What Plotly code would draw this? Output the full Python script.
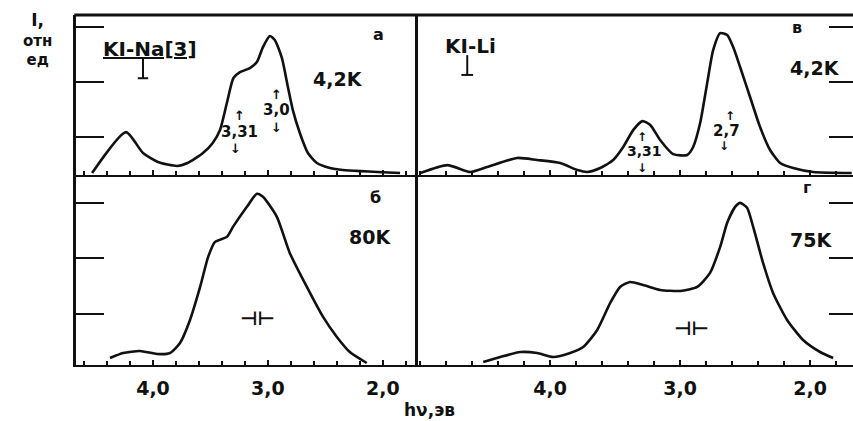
import plotly.graph_objects as go

# ---------------- data ----------------
# a) KI-Na, 4.2 K
E_A = [4.53, 4.235, 4.087, 3.957, 3.79, 3.70, 3.565, 3.48, 3.417, 3.357, 3.30, 3.243,
       3.157, 3.096, 3.043, 2.983, 2.94, 2.878, 2.826, 2.783, 2.722, 2.652, 2.574,
       2.46, 2.348, 1.85]
I_A = [0.346, 1.09, 0.71, 0.546, 0.474, 0.528, 0.71, 0.892, 1.128, 1.62, 2.074, 2.18,
       2.255, 2.365, 2.637, 2.837, 2.765, 2.437, 1.91, 1.49, 1.074, 0.71, 0.528,
       0.437, 0.40, 0.346]
# b) KI-Na, 80 K
E_B = [4.374, 4.26, 4.113, 3.965, 3.852, 3.765, 3.678, 3.59, 3.52, 3.46, 3.357, 3.304,
       3.183, 3.096, 3.043, 2.922, 2.81, 2.661, 2.52, 2.40, 2.287, 2.14]
I_B = [0.206, 0.296, 0.332, 0.278, 0.296, 0.476, 0.891, 1.485, 2.026, 2.296, 2.386,
       2.566, 2.927, 3.161, 3.107, 2.747, 2.098, 1.485, 0.945, 0.585, 0.314, 0.116]
# v) KI-Li, 4.2 K
E_V = [5.0, 4.79, 4.615, 4.485, 4.254, 4.10, 3.923, 3.79, 3.715, 3.615, 3.515, 3.438,
       3.36, 3.29, 3.23, 3.154, 3.054, 2.946, 2.90, 2.846, 2.792, 2.746, 2.692, 2.638,
       2.592, 2.538, 2.462, 2.385, 2.308, 2.23, 2.13, 1.977, 1.68]
I_V = [0.346, 0.49, 0.365, 0.455, 0.62, 0.583, 0.528, 0.40, 0.365, 0.437, 0.583, 0.82,
       1.13, 1.29, 1.22, 0.946, 0.69, 0.674, 0.82, 1.255, 1.98, 2.58, 2.89, 2.855,
       2.637, 2.27, 1.728, 1.183, 0.765, 0.528, 0.437, 0.365, 0.346]
# g) KI-Li, 75 K
E_G = [4.515, 4.385, 4.23, 4.10, 3.977, 3.846, 3.746, 3.638, 3.538, 3.462, 3.385,
       3.285, 3.154, 3.0, 2.869, 2.77, 2.692, 2.638, 2.577, 2.538, 2.485, 2.438,
       2.362, 2.285, 2.177, 2.054, 1.923, 1.823]
I_G = [0.134, 0.224, 0.314, 0.296, 0.224, 0.296, 0.404, 0.711, 1.197, 1.485, 1.575,
       1.521, 1.431, 1.413, 1.485, 1.738, 2.206, 2.639, 2.927, 2.999, 2.909, 2.566,
       1.918, 1.377, 0.891, 0.53, 0.314, 0.206]

X_TICK_VALS = [4.0, 3.0, 2.0]
X_TICK_TEXT = ["4,0", "3,0", "2,0"]
Y_TICK_VALS = [1, 2, 3]

BLACK = "#111111"
FONT = "DejaVu Sans"

fig = go.Figure()
panels = [(E_A, I_A, "x", "y"), (E_V, I_V, "x2", "y2"),
          (E_B, I_B, "x3", "y3"), (E_G, I_G, "x4", "y4")]
for e, i, xa, ya in panels:
    fig.add_trace(go.Scatter(x=e, y=i, xaxis=xa, yaxis=ya, mode="lines",
                             line=dict(color=BLACK, width=2.6, shape="spline", smoothing=0.6),
                             showlegend=False, hoverinfo="skip"))

L_DOM = [76 / 853, 415 / 853]
R_DOM = [415 / 853, 1.0]
T_DOM = [1 - 175 / 421, 1 - 15 / 421]
B_DOM = [1 - 365 / 421, 1 - 175 / 421]
L_RANGE = [4.67, 1.72]
R_RANGE = [5.04, 1.67]
T_YRANGE = [0.31, 3.22]
B_YRANGE = [0.08, 3.50]


def xax(dom, rng, anchor, labels):
    return dict(domain=dom, range=rng, anchor=anchor, showline=True, linecolor=BLACK,
                linewidth=1.5, ticks="inside", ticklen=5, tickwidth=1.5, tickcolor=BLACK,
                tickvals=X_TICK_VALS, ticktext=X_TICK_TEXT, showticklabels=labels,
                minor=dict(ticks="inside", dtick=0.2, tick0=0, ticklen=4, tickwidth=1.5,
                           tickcolor=BLACK, showgrid=False),
                showgrid=False, zeroline=False, ticklabelstandoff=5,
                tickfont=dict(family=FONT, size=19, color=BLACK, weight="bold"))


def yax_left(dom, rng, anchor):
    return dict(domain=dom, range=rng, anchor=anchor, side="left", showline=True,
                linecolor=BLACK, linewidth=3, mirror=True, ticks="inside", ticklen=28,
                tickwidth=1.5, tickcolor=BLACK, tickvals=Y_TICK_VALS,
                showticklabels=False, showgrid=False, zeroline=False)


def yax_right(dom, rng, anchor):
    return dict(domain=dom, range=rng, anchor=anchor, side="right", showline=False,
                ticks="inside", ticklen=24, tickwidth=1.5, tickcolor=BLACK,
                tickvals=Y_TICK_VALS, showticklabels=False, showgrid=False,
                zeroline=False)


fig.update_layout(
    width=853, height=421, margin=dict(l=0, r=0, t=0, b=0),
    paper_bgcolor="white", plot_bgcolor="white",
    xaxis=xax(L_DOM, L_RANGE, "y", False),
    xaxis2=xax(R_DOM, R_RANGE, "y2", False),
    xaxis3=xax(L_DOM, L_RANGE, "y3", True),
    xaxis4=xax(R_DOM, R_RANGE, "y4", True),
    yaxis=yax_left(T_DOM, T_YRANGE, "x"),
    yaxis2=yax_right(T_DOM, T_YRANGE, "x2"),
    yaxis3=yax_left(B_DOM, B_YRANGE, "x3"),
    yaxis4=yax_right(B_DOM, B_YRANGE, "x4"),
)

# top border
fig.add_shape(type="line", xref="paper", yref="paper", x0=L_DOM[0] - 0.002, x1=1.0,
              y0=T_DOM[1], y1=T_DOM[1], line=dict(color=BLACK, width=3))

# ---------------- annotations ----------------
def txt(x, y, s, xr, yr, size=17):
    fig.add_annotation(x=x, y=y, xref=xr, yref=yr, text=s, showarrow=False,
                       font=dict(family=FONT, size=size, color=BLACK, weight="bold"),
                       xanchor="center", yanchor="middle")

# panel a
txt(2.04, 2.86, "а", "x", "y", 16)
txt(2.39, 2.06, "4,2K", "x", "y", 19)
txt(4.03, 2.60, "<u>KI-Na[3]</u>", "x", "y", 20)
txt(3.243, 1.09, "3,31", "x", "y", 15)
txt(3.243, 1.40, "↑", "x", "y", 13)
txt(3.278, 0.80, "↓", "x", "y", 13)
txt(2.922, 1.49, "3,0", "x", "y", 15)
txt(2.922, 1.78, "↑", "x", "y", 13)
txt(2.922, 1.18, "↓", "x", "y", 13)
# panel b
txt(2.06, 3.09, "б", "x3", "y3", 16)
txt(2.113, 2.39, "80K", "x3", "y3", 19)
txt(3.087, 0.93, "⊣⊢", "x3", "y3", 19)
# panel v
txt(2.10, 3.00, "в", "x2", "y2", 16)
txt(1.96, 2.255, "4,2K", "x2", "y2", 19)
txt(4.615, 2.66, "KI-Li", "x2", "y2", 20)
txt(3.277, 0.74, "3,31", "x2", "y2", 14)
txt(3.29, 1.00, "↑", "x2", "y2", 12)
txt(3.29, 0.44, "↓", "x2", "y2", 12)
txt(2.646, 1.11, "2,7", "x2", "y2", 15)
txt(2.62, 1.38, "↑", "x2", "y2", 12)
txt(2.66, 0.84, "↓", "x2", "y2", 12)
# panel g
txt(2.023, 3.27, "г", "x4", "y4", 16)
txt(1.992, 2.33, "75K", "x4", "y4", 19)
txt(2.915, 0.75, "⊣⊢", "x4", "y4", 19)

# level markers under the sample names
for xr, yr, ex, y0, y1 in [("x", "y", 4.087, 2.44, 2.07), ("x2", "y2", 4.638, 2.49, 2.13)]:
    fig.add_shape(type="line", xref=xr, yref=yr, x0=ex, x1=ex, y0=y0, y1=y1,
                  line=dict(color=BLACK, width=2))
    fig.add_shape(type="line", xref=xr, yref=yr, x0=ex + 0.045, x1=ex - 0.045, y0=y1, y1=y1,
                  line=dict(color=BLACK, width=2))

# axis captions (paper coordinates)
def ptxt(px, py, s, size, ya="middle"):
    fig.add_annotation(x=px / 853, y=1 - py / 421, xref="paper", yref="paper", text=s,
                       showarrow=False, xanchor="center", yanchor=ya,
                       font=dict(family=FONT, size=size, color=BLACK, weight="bold"))

ptxt(37, 40, "<span style='font-size:17px'>I,</span><br>отн<br>ед", 15)
ptxt(429, 398, "hν,эв", 17, "top")

fig.write_html("out.html")
